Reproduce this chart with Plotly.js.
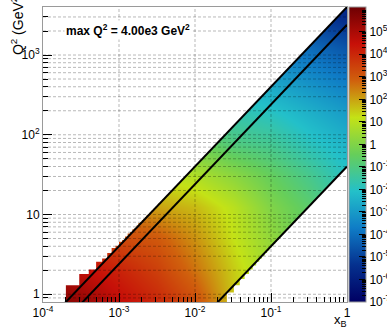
<!DOCTYPE html>
<html><head><meta charset="utf-8">
<script src="https://cdn.plot.ly/plotly-3.0.1.min.js"></script>
<style>html,body{margin:0;padding:0;background:#fff;}#chart{width:387px;height:327px;}</style>
</head><body><div id="chart"></div>
<script>
// ---- data ----
// node centres of the coarse grid, in log10(x_B) and log10(Q2)
const logXNodes  = [-4, -3.5, -3, -2.5, -2, -1.5, -1, -0.5, 0];
const logQ2Nodes = [-0.1, 0.3, 0.7, 1.1, 1.5, 1.9, 2.3, 2.7, 3.1, 3.5];
// log10(counts) at each node; one row per Q2 node
const logCounts = [
  [ 5.9,  5.4,  4.6,  4.0,  3.2,  1.6,  0.5, -0.3, -1.0],
  [ 5.1,  4.6,  4.1,  3.5,  2.6,  1.5,  0.5, -0.3, -1.0],
  [ 4.3,  3.8,  3.3,  3.0,  2.2,  1.2,  0.3, -0.6, -1.4],
  [ 3.5,  3.0,  2.5,  2.0,  1.7,  1.0,  0.0, -0.7, -1.6],
  [ 2.6,  2.1,  1.6,  1.1,  0.8,  0.2, -0.5, -1.2, -2.0],
  [ 1.7,  1.2,  0.7,  0.2, -0.3, -1.0, -1.3, -1.9, -2.4],
  [ 0.5,  0.0, -0.5, -1.0, -1.3, -1.7, -2.0, -2.5, -3.0],
  [-0.3, -0.8, -1.3, -1.8, -2.2, -2.5, -2.8, -3.3, -3.8],
  [-1.5, -2.0, -2.5, -3.0, -3.3, -3.6, -3.8, -4.1, -4.6],
  [-2.5, -3.0, -3.5, -4.0, -4.4, -4.7, -5.0, -5.2, -5.6]
];
// kinematics / binning
const sBeam = 4000;            // GeV^2, max Q2
const yLines = [1, 0.6, 0.01]; // inelasticity lines drawn
const yMax = 1, yMin = 0.01;
const binDx = 1e-4, binDQ2 = 0.25, q2Low = 0.8;
// axes
const xRange = [1e-4, 1];
const q2Range = [0.8, 4000];
const xTickVals = [1e-4, 1e-3, 1e-2, 1e-1, 1];
const xTickText = ['10<sup>-4</sup>', '10<sup>-3</sup>', '10<sup>-2</sup>', '10<sup>-1</sup>', '1'];
const yTickVals = [1, 10, 100, 1000];
const yTickText = ['1', '10', '10<sup>2</sup>', '10<sup>3</sup>'];
const cbExp = [-7, -6, -5, -4, -3, -2, -1, 0, 1, 2, 3, 4, 5];
const cbText = ['10<sup>-7</sup>','10<sup>-6</sup>','10<sup>-5</sup>','10<sup>-4</sup>','10<sup>-3</sup>','10<sup>-2</sup>','10<sup>-1</sup>','1','10','10<sup>2</sup>','10<sup>3</sup>','10<sup>4</sup>','10<sup>5</sup>'];
const zLogMin = -7, zLogMax = 6.1;

// ---- helpers ----
const L = Math.log10;
const FONT = 'Liberation Sans, Arial, Helvetica, sans-serif';
const rootRainbow = [
  [0.000, 'rgb(0,0,99)'], [0.125, 'rgb(5,48,142)'], [0.250, 'rgb(15,124,198)'],
  [0.375, 'rgb(35,192,201)'], [0.500, 'rgb(102,206,90)'], [0.625, 'rgb(196,226,22)'],
  [0.750, 'rgb(208,97,13)'], [0.875, 'rgb(199,16,8)'], [1.000, 'rgb(110,0,2)']
];
function minorVals(lo, hi) {
  const out = [];
  for (let e = Math.floor(L(lo)) - 1; e <= Math.ceil(L(hi)); e++)
    for (let k = 2; k <= 9; k++) { const v = k * Math.pow(10, e); if (v >= lo && v <= hi) out.push(v); }
  return out;
}
function allVals(lo, hi) {
  const out = [];
  for (let e = Math.floor(L(lo)) - 1; e <= Math.ceil(L(hi)); e++)
    for (let k = 1; k <= 9; k++) { const v = k * Math.pow(10, e); if (v > lo * 1.0001 && v < hi * 0.9999) out.push(v); }
  return out;
}

// upper-left edge (y = yMax) including bin staircase
const ux = [-6, -6], uy = [6, -2];
let started = false;
for (let i = 1; (i + 1) * binDx <= 0.05; i++) {
  const xl = i * binDx, xh = (i + 1) * binDx;
  const k = Math.ceil((sBeam * yMax * binDx * (i + 1) - q2Low) / binDQ2 - 1e-9);
  const top = q2Low + binDQ2 * Math.max(k, 0);
  if (top <= q2Low) continue;
  if (!started) { ux.push(L(xl)); uy.push(-2); started = true; }
  ux.push(L(xl)); uy.push(L(top));
  ux.push(L(xh)); uy.push(L(top));
}
ux.push(0); uy.push(L(sBeam * yMax));
ux.push(1); uy.push(L(sBeam * yMax) + 1);
ux.push(1); uy.push(6);

// lower-right edge (y = yMin) including bin staircase
const lx = [], ly = [];
for (let j = 0; ; j++) {
  const qlo = q2Low + j * binDQ2, qhi = qlo + binDQ2;
  const r = (Math.floor(qhi / (sBeam * yMin * binDx) - 1e-9) + 1) * binDx;
  if (j === 0) { lx.push(L(r)); ly.push(-2); }
  else { lx.push(L(r)); ly.push(L(qlo)); }
  lx.push(L(r)); ly.push(L(qhi));
  if (r > 1.2) break;
}
lx.push(1); ly.push(ly[ly.length - 1]);
lx.push(1); ly.push(-2);

const traces = [];
traces.push({
  type: 'heatmap', x: logXNodes, y: logQ2Nodes, z: logCounts, zsmooth: 'best',
  colorscale: rootRainbow, zmin: zLogMin, zmax: zLogMax, hoverinfo: 'skip',
  colorbar: {
    x: 1.0066, xanchor: 'left', y: 0.5, yanchor: 'middle', len: 1, lenmode: 'fraction',
    thickness: 17, thicknessmode: 'pixels', xpad: 0, ypad: 0,
    outlinecolor: '#9a9a9a', outlinewidth: 1,
    tickmode: 'array', tickvals: cbExp, ticktext: cbText,
    ticks: 'inside', ticklen: 7, tickcolor: '#000', tickwidth: 1,
    tickfont: {family: FONT, size: 12, color: '#000'}
  }
});
// transparent twin: only carries the minor ticks of the colour bar
const cbMinor = [];
for (let e = -7; e <= 6; e++) for (let k = 2; k <= 9; k++) { const v = e + L(k); if (v <= zLogMax) cbMinor.push(v); }
traces.push({
  type: 'heatmap', x: logXNodes, y: logQ2Nodes, z: logCounts, zsmooth: 'best',
  colorscale: [[0, 'rgba(0,0,0,0)'], [1, 'rgba(0,0,0,0)']], zmin: zLogMin, zmax: zLogMax, hoverinfo: 'skip',
  colorbar: {
    x: 1.0066, xanchor: 'left', y: 0.5, yanchor: 'middle', len: 1, lenmode: 'fraction',
    thickness: 17, thicknessmode: 'pixels', xpad: 0, ypad: 0, outlinewidth: 0,
    tickmode: 'array', tickvals: cbMinor, showticklabels: false,
    ticks: 'inside', ticklen: 4, tickcolor: '#000', tickwidth: 1
  }
});
traces.push({type: 'scatter', mode: 'lines', x: ux, y: uy, fill: 'toself', fillcolor: '#fff', line: {width: 0}, hoverinfo: 'skip'});
traces.push({type: 'scatter', mode: 'lines', x: lx, y: ly, fill: 'toself', fillcolor: '#fff', line: {width: 0}, hoverinfo: 'skip'});
yLines.forEach(yv => {
  traces.push({type: 'scatter', mode: 'lines', x: [L(xRange[0]), L(xRange[1])],
    y: [L(xRange[0] * sBeam * yv), L(xRange[1] * sBeam * yv)],
    line: {color: '#000', width: 2}, hoverinfo: 'skip'});
});

// dashed grid drawn above the histogram
const shapes = [];
const gridStyle = {color: 'rgba(0,0,0,0.28)', width: 1, dash: '3px,2px'};
allVals(q2Range[0], q2Range[1]).forEach(q => shapes.push({type: 'line', layer: 'above', xref: 'paper', yref: 'y', x0: 0, x1: 1, y0: L(q), y1: L(q), line: gridStyle}));
xTickVals.slice(1, -1).forEach(v => shapes.push({type: 'line', layer: 'above', xref: 'x', yref: 'paper', x0: L(v), x1: L(v), y0: 0, y1: 1, line: gridStyle}));

const axisCommon = {
  tickmode: 'array', ticks: 'inside', ticklen: 9, tickcolor: '#000', tickwidth: 1,
  showline: true, linecolor: '#9a9a9a', linewidth: 1, mirror: true,
  showgrid: false, zeroline: false, layer: 'above traces', fixedrange: true,
  tickfont: {family: FONT, size: 12, color: '#000'}
};
const layout = {
  width: 387, height: 327, margin: {l: 43, r: 40, t: 7, b: 25, pad: 0, autoexpand: false},
  paper_bgcolor: '#fff', plot_bgcolor: '#fff', showlegend: false,
  xaxis: Object.assign({}, axisCommon, {
    range: [L(xRange[0]), L(xRange[1])], tickvals: xTickVals.map(L), ticktext: xTickText,
    minor: {tickmode: 'array', tickvals: minorVals(xRange[0], xRange[1]).map(L), ticks: 'inside', ticklen: 5, tickcolor: '#000', showgrid: false}
  }),
  yaxis: Object.assign({}, axisCommon, {
    range: [L(q2Range[0]), L(q2Range[1])], tickvals: yTickVals.map(L), ticktext: yTickText,
    minor: {tickmode: 'array', tickvals: minorVals(q2Range[0], q2Range[1]).map(L), ticks: 'inside', ticklen: 5, tickcolor: '#000', showgrid: false}
  }),
  shapes: shapes,
  annotations: [
    {xref: 'paper', yref: 'paper', x: 0.278, y: 0.922, xanchor: 'center', yanchor: 'middle', showarrow: false,
     text: '<b>max Q<sup>2</sup> = 4.00e3 GeV<sup>2</sup></b>', font: {family: FONT, size: 12, color: '#000'},
     bgcolor: '#fff', borderpad: 1},
    {xref: 'paper', yref: 'paper', x: -0.0855, y: 0.942, xanchor: 'center', yanchor: 'middle', showarrow: false,
     textangle: -90, text: 'Q<sup>2</sup> (GeV<sup>2</sup>)', font: {family: FONT, size: 14, color: '#000'}},
    {xref: 'paper', yref: 'paper', x: 0.98, y: -0.064, xanchor: 'center', yanchor: 'middle', showarrow: false,
     text: 'x<sub>B</sub>', font: {family: FONT, size: 13, color: '#000'}}
  ]
};
Plotly.newPlot('chart', traces, layout, {staticPlot: true, displayModeBar: false});
</script>
</body></html>
